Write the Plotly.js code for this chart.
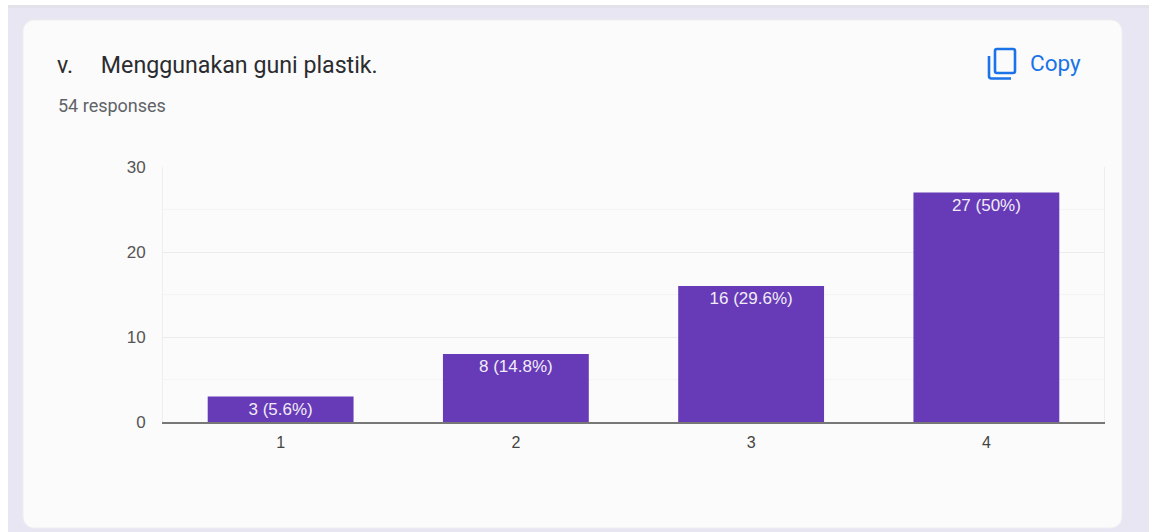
<!DOCTYPE html>
<html>
<head>
<meta charset="utf-8">
<script src="https://cdn.plot.ly/plotly-3.0.1.min.js"></script>
<style>
  html, body { margin: 0; padding: 0; background: #ffffff; overflow: hidden; }
  #chart { width: 1149px; height: 532px; }
</style>
</head>
<body>
<div id="chart"></div>
<script>
// Survey answers for one question
const categories = ['1', '2', '3', '4'];
const responses = [3, 8, 16, 27];
const barLabels = ['3 (5.6%)', '8 (14.8%)', '16 (29.6%)', '27 (50%)'];
const yTicks = [0, 10, 20, 30];

const questionTitle = 'v.&nbsp;&nbsp;&nbsp;&nbsp;&#8201;Menggunakan guni plastik.';
const responseCount = '54 responses';
const copyLabel = 'Copy';

const W = 1149, H = 532;
const margin = { l: 163, r: 45, t: 167, b: 110 };
const plotW = W - margin.l - margin.r;
const plotH = H - margin.t - margin.b;

// Page pixels to paper coordinates, for the card furniture around the plot
const px = x => (x - margin.l) / plotW;
const py = y => 1 - (y - margin.t) / plotH;
const pt = (x, y) => px(x).toFixed(5) + ',' + py(y).toFixed(5);

function roundedRect(x0, y0, x1, y1, r) {
  const k = r * 0.45;
  return 'M' + pt(x0 + r, y0) + ' L' + pt(x1 - r, y0) +
    ' C' + pt(x1 - k, y0) + ' ' + pt(x1, y0 + k) + ' ' + pt(x1, y0 + r) +
    ' L' + pt(x1, y1 - r) +
    ' C' + pt(x1, y1 - k) + ' ' + pt(x1 - k, y1) + ' ' + pt(x1 - r, y1) +
    ' L' + pt(x0 + r, y1) +
    ' C' + pt(x0 + k, y1) + ' ' + pt(x0, y1 - k) + ' ' + pt(x0, y1 - r) +
    ' L' + pt(x0, y0 + r) +
    ' C' + pt(x0, y0 + k) + ' ' + pt(x0 + k, y0) + ' ' + pt(x0 + r, y0) + ' Z';
}

const paperShape = extra => Object.assign({ xref: 'paper', yref: 'paper', layer: 'below' }, extra);

const shapes = [
  // Lavender page behind the card, with a soft edge under the top bar
  paperShape({ type: 'rect', x0: px(8), x1: px(W), y0: py(H), y1: py(5),
    fillcolor: '#e9e6f4', line: { width: 0 } }),
  paperShape({ type: 'rect', x0: px(8), x1: px(W), y0: py(8), y1: py(5),
    fillcolor: '#e3e1ea', line: { width: 0 } }),
  // Card
  paperShape({ type: 'path', path: roundedRect(23, 20, 1122, 528, 11),
    fillcolor: '#fbfbfb', line: { color: '#eeeeef', width: 1 } }),
  // Copy icon: front sheet and the corner of the sheet behind it
  paperShape({ type: 'path', path: roundedRect(995, 49, 1015, 73, 2),
    fillcolor: 'rgba(0,0,0,0)', line: { color: '#1a73e8', width: 2.6 } }),
  paperShape({ type: 'path',
    path: 'M' + pt(989, 56) + ' L' + pt(989, 76) + ' Q' + pt(989, 78.5) + ' ' + pt(991.5, 78.5) + ' L' + pt(1011, 78.5),
    line: { color: '#1a73e8', width: 2.6 } })
];

const annotations = [
  { text: responseCount, xref: 'paper', yref: 'paper', x: px(56), y: py(105.5),
    xanchor: 'left', yanchor: 'middle', showarrow: false,
    font: { family: 'Roboto, sans-serif', size: 18, color: '#5f6368' } },
  { text: copyLabel, xref: 'paper', yref: 'paper', x: px(1028), y: py(63),
    xanchor: 'left', yanchor: 'middle', showarrow: false,
    font: { family: 'Roboto, sans-serif', size: 22.5, color: '#1a73e8' } }
];

const trace = {
  type: 'bar',
  x: categories,
  y: responses,
  text: barLabels,
  textposition: 'inside',
  insidetextanchor: 'end',
  textangle: 0,
  constraintext: 'none',
  insidetextfont: { family: '"Liberation Sans", Arial, sans-serif', size: 17, color: '#f1edf8' },
  marker: { color: '#673ab7', line: { width: 0 } },
  hoverinfo: 'x+y'
};

const layout = {
  width: W,
  height: H,
  margin: margin,
  paper_bgcolor: '#ffffff',
  plot_bgcolor: 'rgba(0,0,0,0)',
  showlegend: false,
  bargap: 0.38,
  title: {
    text: questionTitle,
    x: 57 / W, xref: 'container', xanchor: 'left',
    y: 1 - 65 / H, yref: 'container', yanchor: 'middle',
    font: { family: 'Roboto, sans-serif', size: 23.2, color: '#2b2c30' }
  },
  xaxis: {
    type: 'category',
    showgrid: false,
    showline: true,
    linecolor: '#777777',
    linewidth: 2,
    ticks: '',
    ticklen: 0,
    ticklabelstandoff: 5,
    tickfont: { family: '"Liberation Sans", Arial, sans-serif', size: 16, color: '#444444' },
    automargin: false
  },
  yaxis: {
    range: [0, 30],
    tickvals: yTicks,
    ticktext: yTicks.map(String),
    showgrid: true,
    gridcolor: '#ececed',
    gridwidth: 1,
    minor: { dtick: 5, showgrid: true, gridcolor: '#f4f4f5', gridwidth: 1, ticks: '' },
    showline: true,
    mirror: true,
    linecolor: '#eeeeef',
    linewidth: 1,
    zeroline: false,
    ticks: '',
    ticklabelstandoff: 13,
    tickfont: { family: '"Liberation Sans", Arial, sans-serif', size: 17, color: '#555555' },
    automargin: false
  },
  shapes: shapes,
  annotations: annotations
};

Plotly.newPlot('chart', [trace], layout, { displayModeBar: false, staticPlot: true });
</script>
</body>
</html>
